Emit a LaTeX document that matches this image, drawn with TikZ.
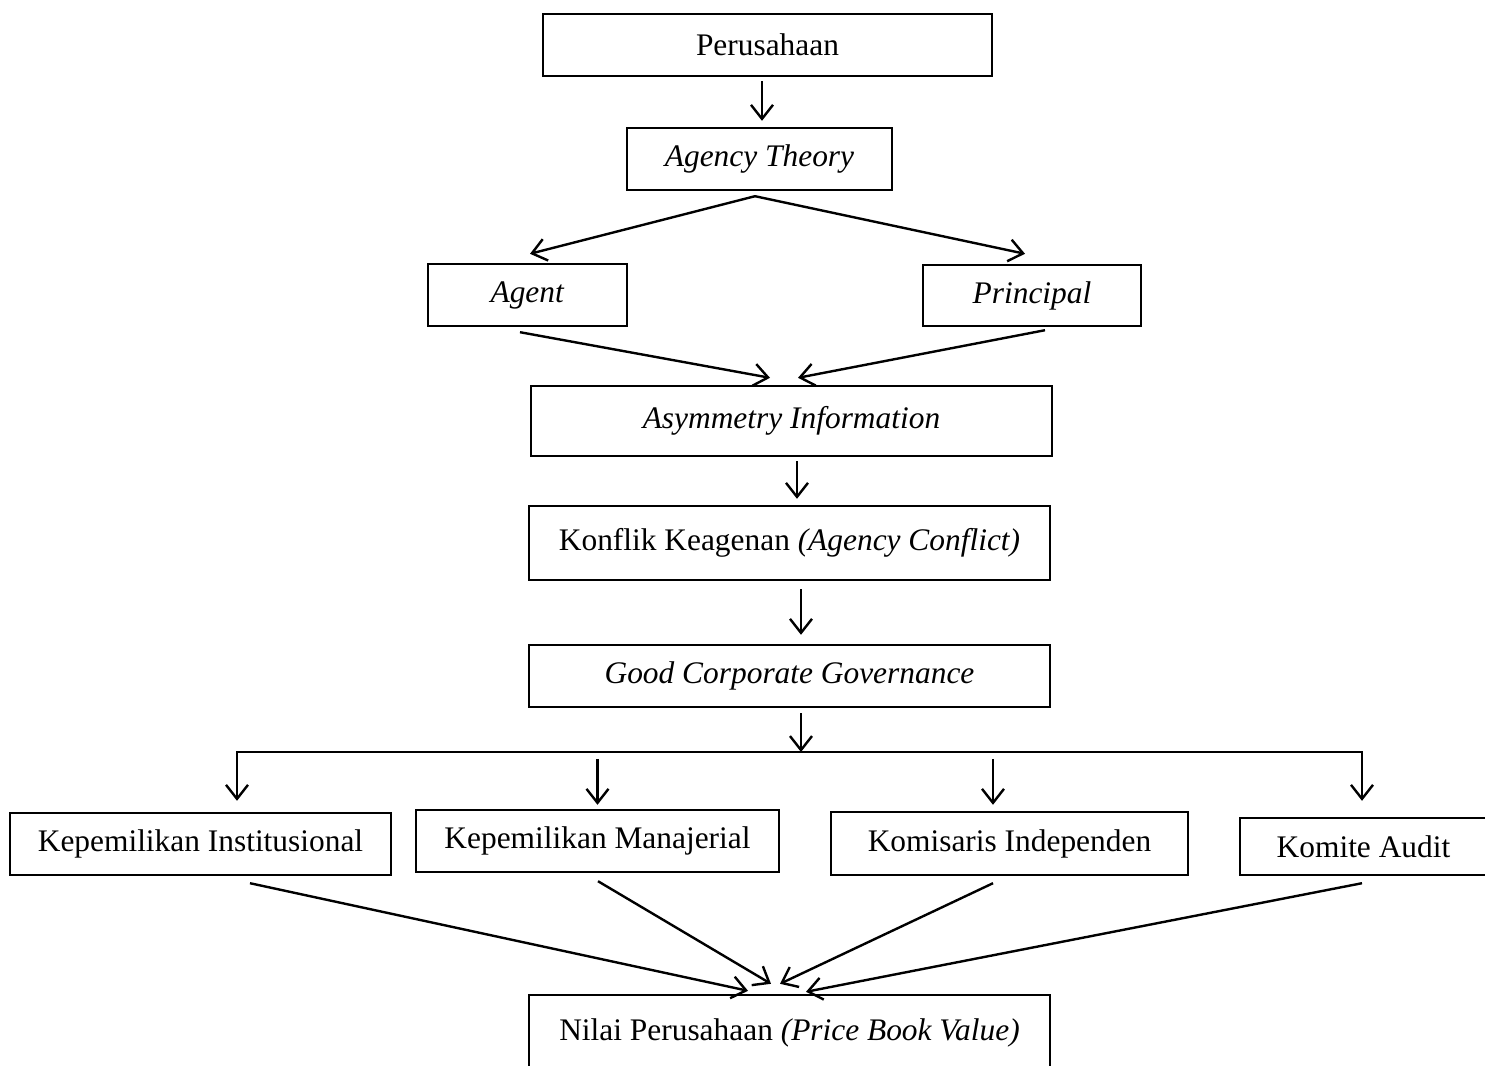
\documentclass[tikz,border=0pt]{standalone}
\usepackage{fontspec}
\setmainfont{Liberation Serif}
\usetikzlibrary{arrows.meta}
\tikzset{
  box/.style={draw, line width=1.2pt, rectangle, inner sep=0pt, align=center,
    font=\fontsize{15.7}{18}\selectfont},
  arr/.style={line width=1.2pt, -{Straight Barb[length=7pt,width=11pt,line width=1.2pt]}}
}
\begin{document}
\begin{tikzpicture}[x=0.5pt,y=-0.5pt]
      \useasboundingbox (0,0) rectangle (1485,1066);
      % boxes
      \node[box,minimum width=224.5pt,minimum height=31pt] (per) at (767.5,45) {Perusahaan};
      \node[box,minimum width=132.5pt,minimum height=31pt] (agt) at (759.5,159) {\textit{Agency Theory}};
      \node[box,minimum width=99.5pt,minimum height=31pt] (agent) at (527.5,295) {\textit{Agent}};
      \node[box,minimum width=109pt,minimum height=30.5pt] (princ) at (1032,295.5) {\textit{Principal}};
      \node[box,minimum width=260.5pt,minimum height=35pt] (asym) at (791.5,421) {\textit{Asymmetry Information}};
      \node[box,minimum width=260.5pt,minimum height=37pt] (konf) at (789.5,543) {Konflik Keagenan \textit{(Agency Conflict)}};
      \node[box,minimum width=260.5pt,minimum height=31pt] (gcg) at (789.5,676) {\textit{Good Corporate Governance}};
      \node[box,minimum width=190.5pt,minimum height=31pt] (inst) at (200.5,844) {Kepemilikan Institusional};
      \node[box,minimum width=181.5pt,minimum height=31pt] (man) at (597.5,841) {Kepemilikan Manajerial};
      \node[box,minimum width=178.5pt,minimum height=31.5pt] (kom) at (1009.5,843.5) {Komisaris Independen};
      \node[box,minimum width=123.5pt,minimum height=28.5pt] (aud) at (1363.5,846.5) {Komite Audit};
      \node[box,minimum width=260.5pt,minimum height=38pt] (nilai) at (789.5,1033) {Nilai Perusahaan \textit{(Price Book Value)}};
      \coordinate (busL) at (237,752);
      \coordinate (busM) at (801,752);
      \coordinate (busR) at (1362,752);
      % arrows
      \draw[arr] ([xshift=-2.75pt,yshift=-2pt]per.south) -- ([xshift=1.25pt,yshift=3pt]agt.north);
      \draw[arr] ([xshift=-2.25pt,yshift=-2.5pt]agt.south) -- ([xshift=1.25pt,yshift=4.5pt]agent.north);
      \draw[arr] ([xshift=-2.25pt,yshift=-2.5pt]agt.south) -- ([xshift=-3.5pt,yshift=5pt]princ.north);
      \draw[arr] ([xshift=-3.75pt,yshift=-2.5pt]agent.south) -- ([xshift=-10.75pt,yshift=3.5pt]asym.north);
      \draw[arr] ([xshift=6.5pt,yshift=-1.5pt]princ.south) -- ([xshift=3.25pt,yshift=3.5pt]asym.north);
      \draw[arr] ([xshift=2.75pt,yshift=-2pt]asym.south) -- ([xshift=3.75pt,yshift=3pt]konf.north);
      \draw[arr] ([xshift=5.75pt,yshift=-4pt]konf.south) -- ([xshift=5.75pt,yshift=4.5pt]gcg.north);
      \draw[arr] ([xshift=5.75pt,yshift=-2.5pt]gcg.south) -- (busM);
      \draw[arr] (busM) -- (busL) -- ([xshift=18.25pt,yshift=5.5pt]inst.north);
      \draw[arr] (busM) -- (busR) -- ([xshift=-0.75pt,yshift=8pt]aud.north);
      \draw[arr] ([yshift=25pt]man.north) -- ([yshift=2pt]man.north);
      \draw[arr] ([xshift=-8.25pt,yshift=26pt]kom.north) -- ([xshift=-8.25pt,yshift=3pt]kom.north);
      \draw[arr] ([xshift=24.75pt,yshift=-3.5pt]inst.south) -- ([xshift=-20.75pt,yshift=1.5pt]nilai.north);
      \draw[arr] ([xshift=0.25pt,yshift=-4pt]man.south) -- ([xshift=-9.25pt,yshift=5pt]nilai.north);
      \draw[arr] ([xshift=-8.25pt,yshift=-3.5pt]kom.south) -- ([xshift=-4.75pt,yshift=5pt]nilai.north);
      \draw[arr] ([xshift=-0.75pt,yshift=-3.5pt]aud.south) -- ([xshift=8.25pt,yshift=1pt]nilai.north);
\end{tikzpicture}
\end{document}
